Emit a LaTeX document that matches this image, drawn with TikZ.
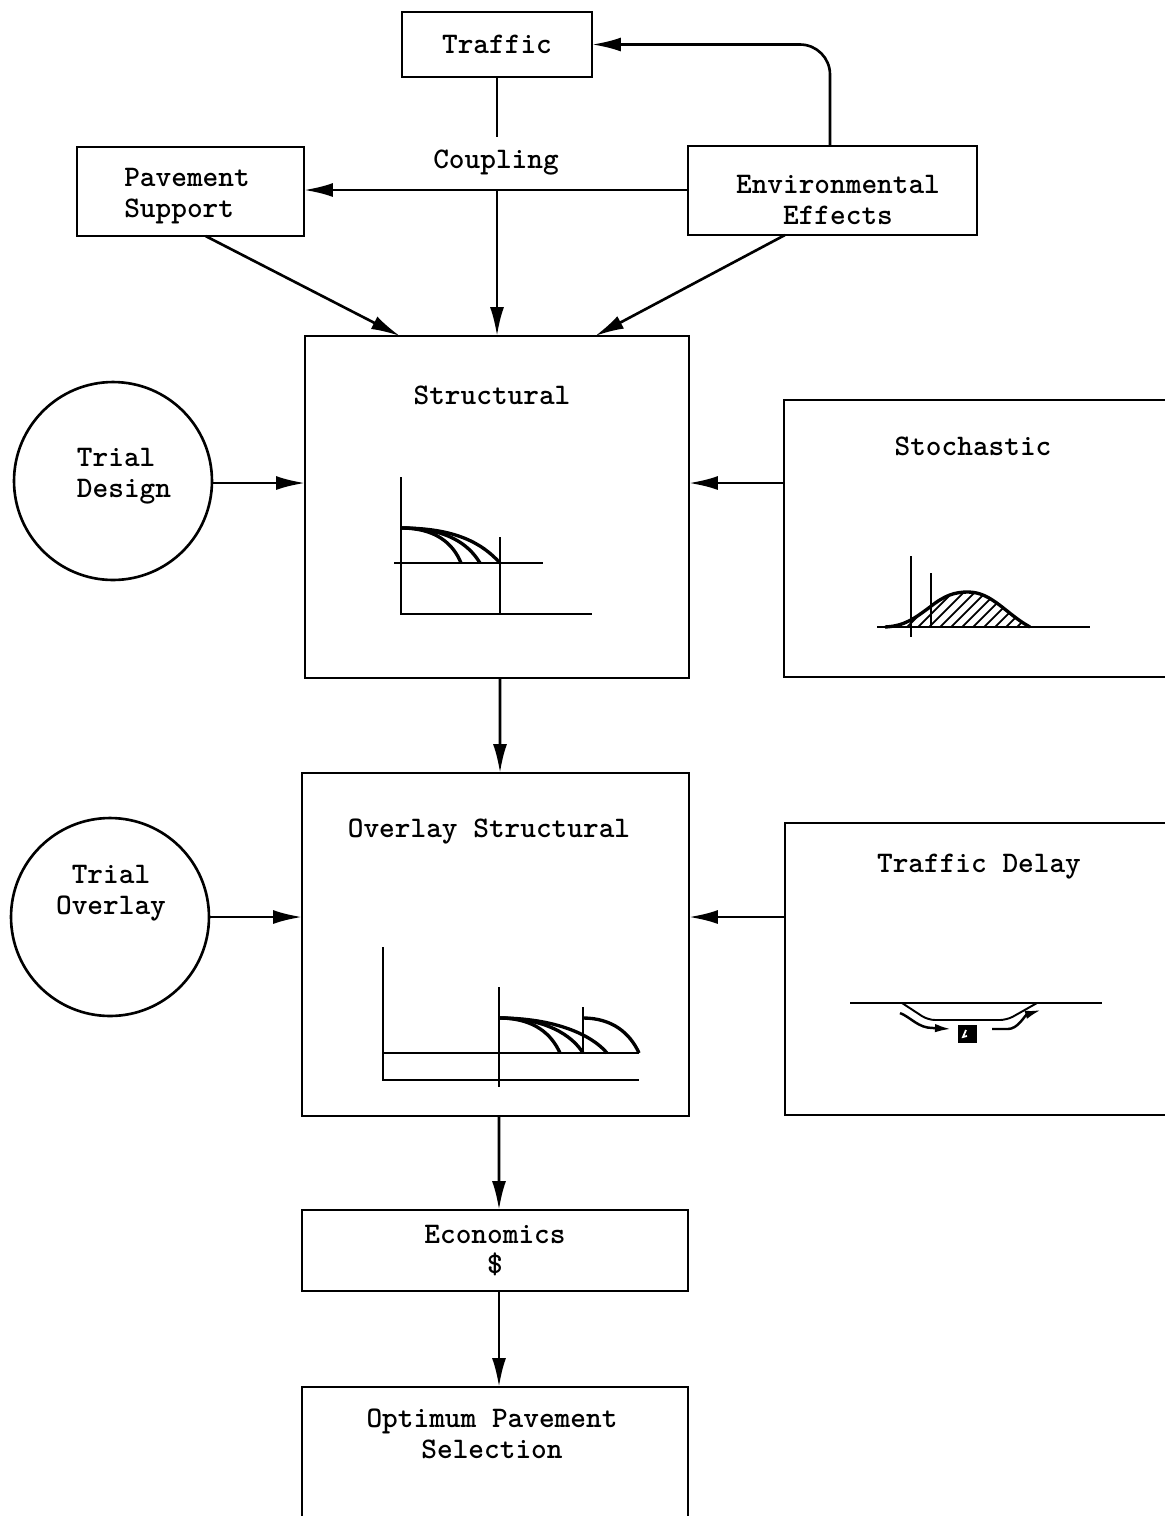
\documentclass[tikz,border=0pt]{standalone}
\usetikzlibrary{arrows.meta,calc}
\begin{document}
\begin{tikzpicture}[x=0.02cm,y=-0.02cm, line width=1.5pt,
  box/.style={draw, rectangle, inner sep=0pt, outer sep=0pt, font=\fontsize{17}{17.5}\ttfamily\bfseries},
  circ/.style={draw, circle, inner sep=0pt, outer sep=0pt, minimum size=3.96cm},
  txt/.style={font=\fontsize{17}{17.5}\ttfamily\bfseries, inner sep=0pt},
  arr/.style={-{Latex[length=0.58cm,width=0.28cm]}},
  axis/.style={line width=1.1pt},
  crv/.style={line width=1.9pt},
  small arr/.style={-{Latex[length=0.32cm,width=0.17cm]}, line width=1.4pt}]
\useasboundingbox (0,0) rectangle (1165,1516);
\clip (0,0) rectangle (1165,1516);

% boxes
\node[box, minimum width=3.8cm, minimum height=1.3cm] (traffic) at (497,44.5) {Traffic};
\node[box, minimum width=4.54cm, minimum height=1.78cm] (pave) at (190.5,191.5) {};
\node[txt, align=left] (pavet) at (187,196) {Pavement\\Support};
\node[box, minimum width=5.78cm, minimum height=1.78cm] (env) at (832.5,190.5) {};
\node[txt, align=center] (envt) at (838,200) {Environmental\\Effects};
\node[txt, inner sep=7pt] (coupling) at (496,163) {Coupling};

\node[box, minimum width=7.68cm, minimum height=6.84cm] (struct) at (497,507) {};
\node[txt] (structt) at (492,395) {Structural};
\node[circ] (trial1) at (113,481) {};
\node[txt, align=left] (trial1t) at (124,476) {Trial\\Design};
\node[box, minimum width=7.92cm, minimum height=5.54cm] (stoch) at (982,538.5) {};
\node[txt] (stocht) at (973,446) {Stochastic};

\node[box, minimum width=7.74cm, minimum height=6.86cm] (overlay) at (495.5,944.5) {};
\node[txt] (overlayt) at (489,832) {Overlay Structural};
\node[circ] (trial2) at (110,917) {};
\node[txt, align=center] (trial2t) at (111,893.5) {Trial\\Overlay};
\node[box, minimum width=7.9cm, minimum height=5.84cm] (delay) at (982.5,969) {};
\node[txt] (delayt) at (979,867) {Traffic Delay};

\node[box, minimum width=7.72cm, minimum height=1.62cm, align=center] (econ) at (495,1250.5) {Economics\\\$};
\node[box, minimum width=7.72cm, minimum height=2.86cm] (opt) at (495,1458.5) {};
\node[txt, align=center] (optt) at (492,1434) {Optimum Pavement\\Selection};

% connectors
\draw (traffic.south) -- (traffic.south |- coupling.north);
\draw[arr] (traffic.south |- coupling.south) -- (traffic.south |- struct.north);
\draw[arr] (env.west |- 0,190) -- (pave.east |- 0,190);
\draw[arr, rounded corners=0.6cm] ($(env.north)+(-2.5,0)$) |- (traffic.east);
\draw[arr] ($(pave.south)+(15,0)$) -- ($(struct.north)+(-97,0)$);
\draw[arr] ($(env.south)+(-47.5,0)$) -- ($(struct.north)+(98,0)$);
\draw[arr] (trial1.east |- 0,483) -- (struct.west |- 0,483);
\draw[arr] (stoch.west |- 0,483) -- (struct.east |- 0,483);
\draw[arr] ($(struct.south)+(3,0)$) -- ($(overlay.north)+(4.5,0)$);
\draw[arr] (trial2.east |- 0,917) -- (overlay.west |- 0,917);
\draw[arr] (delay.west |- 0,917) -- (overlay.east |- 0,917);
\draw[arr] ($(overlay.south)+(3.5,0)$) -- ($(econ.north)+(4,0)$);
\draw[arr] ($(econ.south)+(4,0)$) -- ($(opt.north)+(4,0)$);

% structural graph
\draw[axis] (401,477) -- (401,614) -- (592,614);
\draw[axis] (394,563) -- (543,563);
\draw[axis] (500,537) -- (500,614);
\draw[crv] (401,528) .. controls (455,528) and (482,543) .. (500,563);
\draw[crv] (401,528) .. controls (445,528) and (468,543) .. (480,563);
\draw[crv] (401,528) .. controls (435,528) and (453,543) .. (461,563);

% stochastic graph
\begin{scope}
  \clip (893,627) .. controls (905,626) and (915,618) .. (930,607)
    .. controls (945,595) and (955,592) .. (968,592)
    .. controls (992,592) and (1006,614) .. (1030,627) -- cycle;
  \foreach \i in {850,861,...,1040} \draw[line width=1pt] (\i,640) -- ++(60,-60);
\end{scope}
\draw[crv] (885,627) .. controls (905,626) and (915,618) .. (930,607)
    .. controls (945,595) and (955,592) .. (968,592)
    .. controls (992,592) and (1006,614) .. (1030,627);
\draw[axis, line width=1.5pt] (877,627) -- (1090,627);
\draw[axis] (911,556) -- (911,637);
\draw[axis] (931,573) -- (931,627);

% overlay graph
\draw[axis] (383,947) -- (383,1080) -- (639,1080);
\draw[axis] (383,1053) -- (639,1053);
\draw[axis] (499,987) -- (499,1087);
\draw[axis] (583,1007) -- (583,1053);
\draw[crv] (499,1018) .. controls (535,1018) and (552,1035) .. (560,1053);
\draw[crv] (499,1018) .. controls (545,1018) and (572,1035) .. (583,1053);
\draw[crv] (499,1018) .. controls (555,1018) and (592,1035) .. (607,1053);
\draw[crv] (583,1018) .. controls (612,1018) and (630,1033) .. (639,1053);

% traffic delay graph
\draw[axis] (850,1003) -- (1102,1003);
\draw[axis, rounded corners=4pt] (902,1003) -- (928,1020) -- (1007,1020) -- (1037,1003);
\draw[small arr] (900,1013) .. controls (912,1018) and (918,1028) .. (933,1028) -- (951,1029);
\fill (958,1025) rectangle (977,1043);
\draw[white, line width=1pt] (966,1030) -- (963,1037) -- (967,1036);
\draw[small arr] (992,1029) -- (1008,1029) .. controls (1018,1029) and (1025,1015) .. (1041,1010);
\end{tikzpicture}
\end{document}
